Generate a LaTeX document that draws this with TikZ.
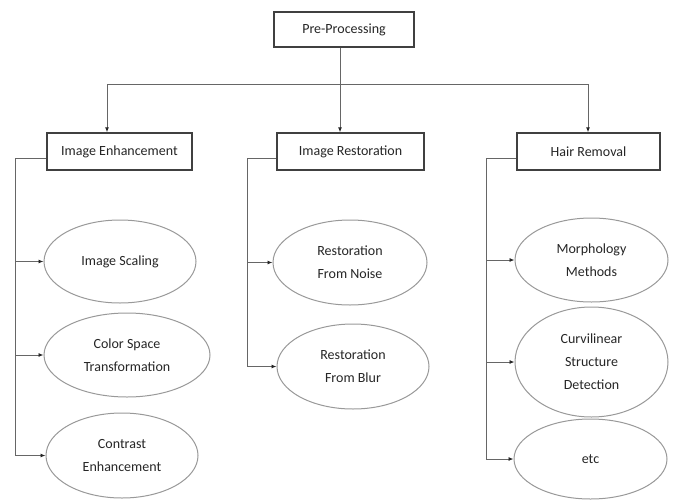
\documentclass[tikz,border=0pt]{standalone}
\usepackage{fontspec}
\setmainfont{Carlito}
\usetikzlibrary{shapes.geometric,arrows.meta}
\begin{document}
\begin{tikzpicture}[x=1pt,y=-1pt,
  font=\fontsize{14}{23}\selectfont,
  boxnode/.style={draw=black!75,line width=1.4pt,rectangle,minimum width=#1,minimum height=37pt,inner sep=0pt,text=black!85},
  ellnode/.style={draw=black!40,line width=1pt,ellipse,inner sep=0pt,align=center,text=black!85},
  conn/.style={draw=black!60,line width=0.9pt},
  arr/.style={conn,-{Latex[length=5pt,width=4pt,color=black!85]}}]
\useasboundingbox[fill=white] (0,0) rectangle (673,499);
% boxes
\node[boxnode=140pt,minimum height=35pt] (pre) at (344,29.5) {Pre-Processing};
\node[boxnode=145pt] (enh) at (119.5,151.5) {Image Enhancement};
\node[boxnode=147pt] (res) at (350.5,151.5) {Image Restoration};
\node[boxnode=143pt] (hair) at (588.5,151.5) {Hair Removal};
% ellipses
\node[ellnode,minimum width=152pt,minimum height=83pt] (scal) at (120,261.5) {Image Scaling};
\node[ellnode,minimum width=166pt,minimum height=84pt] (csp) at (127,355) {Color Space\\Transformation};
\node[ellnode,minimum width=152pt,minimum height=85pt] (con) at (122,455.5) {Contrast\\Enhancement};
\node[ellnode,minimum width=154pt,minimum height=85pt] (noise) at (350,262.5) {Restoration\\From Noise};
\node[ellnode,minimum width=152pt,minimum height=85pt] (blur) at (353,366.5) {Restoration\\From Blur};
\node[ellnode,minimum width=153pt,minimum height=84pt] (morph) at (591.5,260) {Morphology\\Methods};
\node[ellnode,minimum width=153pt,minimum height=110pt] (curv) at (591.5,362) {Curvilinear\\Structure\\Detection};
\node[ellnode,minimum width=153pt,minimum height=80pt] (etc) at (590.5,459) {etc};
% top connectors
\coordinate (hl) at (107,84);
\coordinate (hr) at (588,84);
\draw[arr] ([xshift=-4pt]pre.south) -- ([xshift=-4pt]pre.south |- res.north);
\draw[conn] (hl) -- (hr);
\draw[arr] (hl) -- (hl |- enh.north);
\draw[arr] (hr) -- (hr |- hair.north);
% left branch
\coordinate (lx) at (15,158);
\draw[conn] ([yshift=-6.5pt]enh.west) -- (lx) -- (lx |- con.west);
\draw[arr] (lx |- scal.west) -- (scal.west);
\draw[arr] (lx |- csp.west) -- (csp.west);
\draw[arr] (lx |- con.west) -- (con.west);
% middle branch
\coordinate (mx) at (247,158);
\draw[conn] ([yshift=-6.5pt]res.west) -- (mx) -- (mx |- blur.west);
\draw[arr] (mx |- noise.west) -- (noise.west);
\draw[arr] (mx |- blur.west) -- (blur.west);
% right branch
\coordinate (rx) at (486,158);
\draw[conn] ([yshift=-6.5pt]hair.west) -- (rx) -- (rx |- etc.west);
\draw[arr] (rx |- morph.west) -- (morph.west);
\draw[arr] (rx |- curv.west) -- (curv.west);
\draw[arr] (rx |- etc.west) -- (etc.west);
\end{tikzpicture}
\end{document}
